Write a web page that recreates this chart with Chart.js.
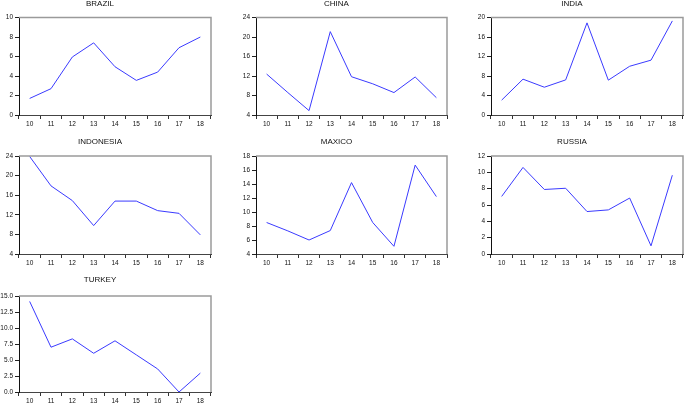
<!DOCTYPE html>
<html><head><meta charset="utf-8">
<script src="https://cdn.jsdelivr.net/npm/chart.js@4.4.0/dist/chart.umd.min.js"></script>
<style>
html,body{margin:0;padding:0;background:#fff;overflow:hidden;width:684px;height:403px;position:relative}
canvas{position:absolute}
</style></head><body>
<script>
// ---- data ----
const years = ['10','11','12','13','14','15','16','17','18'];
const titles = ['BRAZIL','CHINA','INDIA','INDONESIA','MAXICO','RUSSIA','TURKEY'];
const brazil = [1.7,2.7,5.95,7.4,4.95,3.55,4.4,6.9,8.0];
const china = [12.4,8.6,4.9,21.1,11.85,10.4,8.6,11.8,7.55];
const india = [3.05,7.35,5.7,7.2,18.9,7.15,10.0,11.25,19.3];
const indonesia = [23.9,17.9,14.9,9.8,14.8,14.8,12.85,12.3,7.9];
const mexico = [8.5,7.3,6.0,7.35,14.2,8.5,5.1,16.7,12.2];
const russia = [7.05,10.6,7.9,8.05,5.2,5.4,6.85,1.0,9.65];
const turkey = [14.15,7.0,8.3,6.05,8.0,5.8,3.6,0.0,2.95];
const yMins = [0,4,0,4,4,0,0];
const yMaxs = [10,24,20,24,18,12,15];
const ySteps = [2,4,4,4,2,2,2.5];
const yDecimals = [0,0,0,0,0,0,1];
const series = [brazil,china,india,indonesia,mexico,russia,turkey];

// ---- layout ----
const colLeft = [19,256,491], colRight = [211,447,683];
const rowTop = [17,156,296], rowBottom = [115,254,392], rowTitle = [3.5,142,280];
const YW = 30, XH = 14, TFS = 8;

const framePlugin = {
  id:'frame',
  afterDraw(chart){
    const a = chart.chartArea, c = chart.ctx;
    c.save();
    c.strokeStyle = '#9a9a9a'; c.lineWidth = 1.5;
    c.beginPath();
    c.moveTo(a.left, a.top); c.lineTo(a.right, a.top); c.lineTo(a.right, a.bottom);
    c.stroke();
    c.restore();
  }
};

series.forEach((vals, i) => {
  const col = i % 3, row = Math.floor(i / 3);
  const pl = colLeft[col], pr = colRight[col], pt = rowTop[row], pb = rowBottom[row], tc = rowTitle[row];
  const cLeft = pl - YW, cTop = tc - 6;
  const cW = pr - pl + YW + 2, cH = pb - cTop + XH;
  const titlePadBottom = (pt - cTop) - (1.2 + TFS * 1.2);
  const cv = document.createElement('canvas');
  cv.width = cW; cv.height = cH;
  cv.style.left = cLeft + 'px'; cv.style.top = cTop + 'px';
  cv.style.width = cW + 'px'; cv.style.height = cH + 'px';
  document.body.appendChild(cv);
  const dec = yDecimals[i];
  new Chart(cv, {
    type:'line',
    data:{labels:years, datasets:[{data:vals, borderColor:'#3a3aff', borderWidth:1, pointRadius:0, tension:0, fill:false}]},
    options:{
      responsive:false, animation:false, devicePixelRatio:1,
      layout:{padding:{left:0,right:2,top:0,bottom:0}},
      plugins:{
        legend:{display:false}, tooltip:{enabled:false},
        title:{display:true, text:titles[i], color:'#111', font:{family:'Liberation Sans, Arial, sans-serif', size:TFS, weight:'normal', lineHeight:1.2}, padding:{top:1.2, bottom:titlePadBottom}}
      },
      scales:{
        x:{
          offset:true,
          grid:{offset:true, drawOnChartArea:false, tickLength:4, color:'#333', tickColor:'#333'},
          border:{display:true, color:'#444', width:1},
          ticks:{color:'#111', padding:1, maxRotation:0, autoSkip:false, font:{family:'Liberation Sans, Arial, sans-serif', size:6.5}},
          afterFit(s){ s.height = XH; }
        },
        y:{
          min:yMins[i], max:yMaxs[i],
          grid:{drawOnChartArea:false, tickLength:4, color:'#222', tickColor:'#222'},
          border:{display:true, color:'#111', width:1},
          ticks:{stepSize:ySteps[i], color:'#111', padding:2, font:{family:'Liberation Sans, Arial, sans-serif', size:6.5},
            callback:(v)=>Number(v).toFixed(dec)},
          afterFit(s){ s.width = YW; }
        }
      }
    },
    plugins:[framePlugin]
  });
});
</script>
</body></html>
